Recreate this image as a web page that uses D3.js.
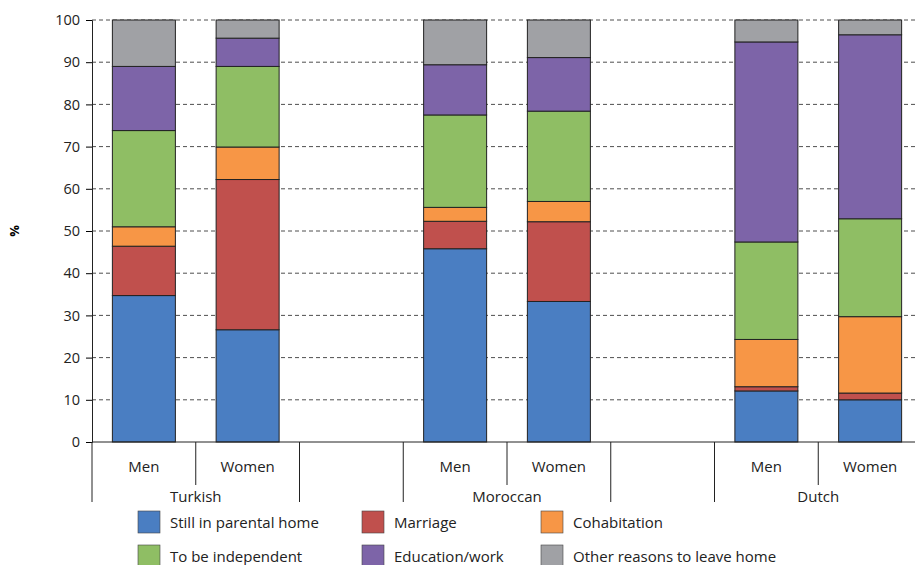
<!DOCTYPE html>
<html><head><meta charset="utf-8">
<script src="https://cdn.jsdelivr.net/npm/d3@7"></script>
<style>body{margin:0;background:#fff}text{font-family:"Open Sans",Arial,sans-serif}</style>
</head><body>
<svg id="chart" width="915" height="565"></svg>
<script>
// slots: 8 positions, empty ones are gaps between groups
const slots = ["TM", "TW", "g1", "MM", "MW", "g2", "DM", "DW"];
const barKeys = ["TM", "TW", "MM", "MW", "DM", "DW"];
const genders = ["Men", "Women", "Men", "Women", "Men", "Women"];
const groups = ["Turkish", "Moroccan", "Dutch"];
const series = ["Still in parental home", "Marriage", "Cohabitation", "To be independent", "Education/work", "Other reasons to leave home"];
const colors = ["#4a7ec2", "#c0504d", "#f79646", "#8fbe64", "#7d64a8", "#a0a1a5"];
const stillHome = [34.7, 26.6, 45.8, 33.3, 12.1, 10.0];
const marriage = [11.7, 35.6, 6.5, 18.9, 1.0, 1.6];
const cohabitation = [4.6, 7.7, 3.3, 4.8, 11.2, 18.1];
const independent = [22.8, 19.1, 21.9, 21.4, 23.1, 23.2];
const eduWork = [15.2, 6.7, 11.9, 12.7, 47.4, 43.6];
const other = [11.0, 4.3, 10.6, 8.9, 5.2, 3.5];
const yTicks = d3.range(0, 101, 10);

const svg = d3.select("#chart");
const x = d3.scaleBand().domain(slots).range([92, 922]).paddingInner(0).paddingOuter(0);
const y = d3.scaleLinear().domain([0, 100]).range([442, 20]);

const rows = barKeys.map((k, i) => {
  const r = {key: k};
  [stillHome, marriage, cohabitation, independent, eduWork, other].forEach((arr, j) => r[series[j]] = arr[i]);
  return r;
});
const stack = d3.stack().keys(series)(rows);

// grid
svg.append("g").selectAll("line").data(yTicks.filter(d => d > 0)).enter().append("line")
  .attr("x1", 92).attr("x2", 915).attr("y1", d => y(d)).attr("y2", d => y(d))
  .attr("stroke", "#222").attr("stroke-width", 0.8).attr("stroke-dasharray", "4,3");

// bars
const bw = 63;
stack.forEach((s, j) => {
  svg.append("g").selectAll("rect").data(s).enter().append("rect")
    .attr("x", d => x(d.data.key) + (x.bandwidth() - bw) / 2)
    .attr("y", d => y(d[1]))
    .attr("width", bw)
    .attr("height", d => y(d[0]) - y(d[1]))
    .attr("fill", colors[j]).attr("stroke", "#222").attr("stroke-width", 1);
});

// y axis
const ya = svg.append("g").attr("transform", "translate(92,0)")
  .call(d3.axisLeft(y).tickValues(yTicks).tickSize(6).tickPadding(6));
ya.select(".domain").attr("stroke", "#222");
ya.selectAll("text").attr("font-size", 14.5).attr("fill", "#222");
svg.append("text").attr("transform", "translate(19,231) rotate(-90)")
  .attr("text-anchor", "middle").attr("font-size", 13).attr("font-weight", "bold").text("%");

// x axis
svg.append("line").attr("x1", 92).attr("x2", 915).attr("y1", 442).attr("y2", 442).attr("stroke", "#222");
slots.forEach((s, i) => {
  const xx = x(s);
  const long = [0, 2, 3, 5, 6].includes(i);
  svg.append("line").attr("x1", xx).attr("x2", xx).attr("y1", 442)
    .attr("y2", long ? 502 : 485).attr("stroke", "#222");
});
barKeys.forEach((k, i) => {
  svg.append("text").attr("x", x(k) + x.bandwidth() / 2).attr("y", 472)
    .attr("text-anchor", "middle").attr("font-size", 15).attr("fill", "#222").text(genders[i]);
});
groups.forEach((g, i) => {
  const a = x(barKeys[i * 2]), b = x(barKeys[i * 2 + 1]) + x.bandwidth();
  svg.append("text").attr("x", (a + b) / 2).attr("y", 502)
    .attr("text-anchor", "middle").attr("font-size", 15).attr("fill", "#222").text(g);
});

// legend
const lx = [138, 362, 541], ly = [511, 545];
series.forEach((s, i) => {
  const gx = lx[i % 3], gy = ly[Math.floor(i / 3)];
  svg.append("rect").attr("x", gx).attr("y", gy).attr("width", 22).attr("height", 22)
    .attr("fill", colors[i]).attr("stroke", "#444").attr("stroke-width", 0.6);
  svg.append("text").attr("x", gx + 32).attr("y", gy + 17).attr("font-size", 15).attr("fill", "#222").text(s);
});
</script>
</body></html>
